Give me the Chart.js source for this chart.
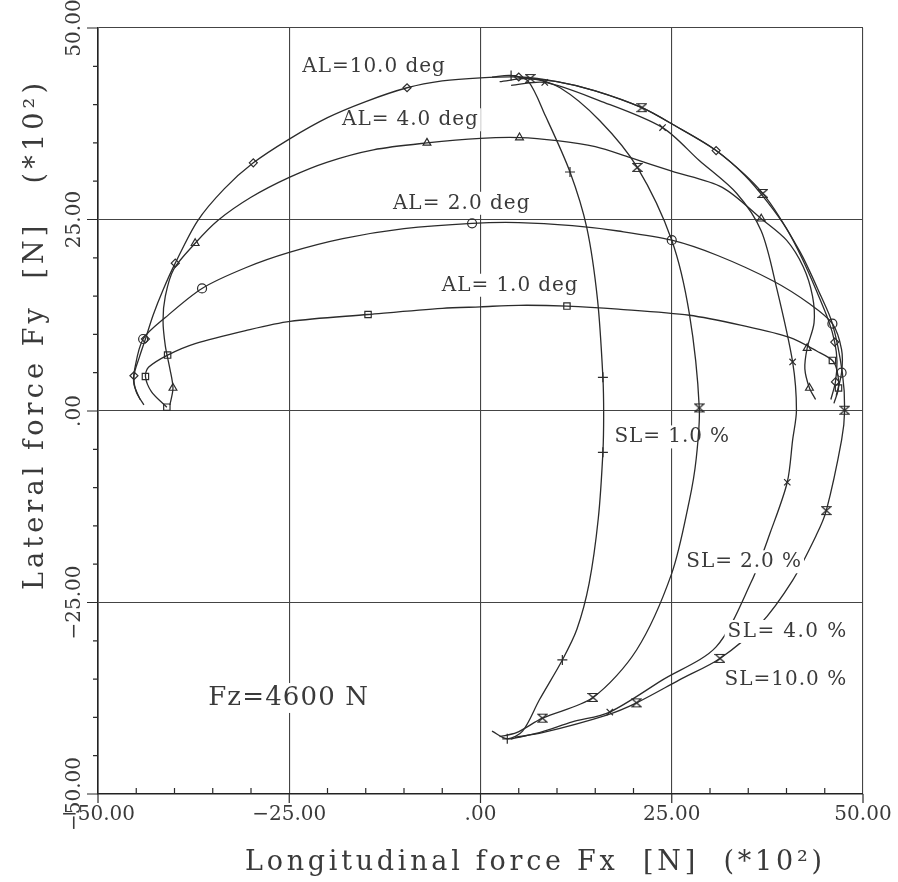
<!DOCTYPE html>
<html><head><meta charset="utf-8">
<script src="https://cdn.jsdelivr.net/npm/chart.js@4.4.1/dist/chart.umd.min.js"></script>
<style>html,body{margin:0;padding:0;background:#fff;overflow:hidden}</style>
</head><body>
<canvas id="c" width="898" height="882"></canvas>
<script>
// ---- axis ticks ----
const X_TICK_VALUES = [-50, -25, 0, 25, 50];
const X_TICK_LABELS = ['−50.00', '−25.00', '.00', '25.00', '50.00'];
const Y_TICK_VALUES = [-50, -25, 0, 25, 50];
const Y_TICK_LABELS = ['−50.00', '−25.00', '.00', '25.00', '50.00'];
const X_TITLE = 'Longitudinal force Fx  [N]  (*10²)';
const Y_TITLE = 'Lateral force Fy  [N]   (*10²)';

// ---- series: [Fx, Fy] in N*10^2 ----
const AL10 = [[-44.0,0.8],[-45.0,2.5],[-45.3,4.6],[-44.6,7.0],[-43.8,9.4],[-42.8,12.5],[-41.5,15.8],[-39.9,19.3],[-37.0,24.8],[-33.5,29.0],[-29.7,32.4],[-25.0,35.5],[-20.0,38.3],[-15.0,40.4],[-9.6,42.2],[-5.0,43.1],[0.0,43.5],[5.0,43.6],[10.0,43.0],[15.0,41.8],[21.1,39.6],[25.5,37.2],[30.8,34.0],[34.5,30.8],[37.5,27.3],[40.0,23.8],[42.0,20.0],[44.0,15.5],[45.5,11.8],[46.3,9.0],[46.6,6.5],[46.4,3.8],[45.8,1.5]];
const AL10_MARKS = [2,4,7,10,14,17,22,29,31];
const AL4 = [[-40.6,0.8],[-40.2,3.0],[-40.6,5.5],[-41.2,8.5],[-41.5,11.8],[-41.2,15.0],[-40.1,18.5],[-37.3,21.9],[-34.3,24.9],[-30.0,27.9],[-25.0,30.5],[-20.0,32.5],[-14.0,34.1],[-7.0,35.0],[0.0,35.6],[5.1,35.7],[10.0,35.3],[15.0,34.5],[19.5,33.1],[25.0,31.3],[31.6,29.2],[36.7,25.1],[40.0,22.3],[42.2,18.8],[43.4,15.0],[43.6,11.5],[42.7,8.2],[42.4,5.5],[43.0,3.0],[43.8,1.5]];
const AL4_MARKS = [1,7,13,15,21,26,28];
const AL2 = [[-44.5,1.5],[-45.3,3.5],[-45.2,5.5],[-44.1,9.4],[-41.2,12.2],[-36.4,16.0],[-30.7,18.7],[-25.0,20.7],[-18.0,22.5],[-10.0,23.8],[-1.1,24.5],[5.0,24.6],[12.0,24.2],[18.0,23.5],[25.0,22.3],[31.0,20.3],[38.2,17.0],[43.0,14.0],[46.0,11.4],[47.2,8.0],[47.2,5.0],[46.5,2.0]];
const AL2_MARKS = [3,5,10,14,18,20];
const AL1 = [[-41.0,0.5],[-43.0,2.5],[-43.8,4.5],[-43.4,5.7],[-40.9,7.3],[-37.3,8.8],[-30.7,10.5],[-24.9,11.7],[-14.7,12.6],[-5.0,13.4],[0.0,13.6],[5.0,13.8],[11.3,13.7],[18.0,13.3],[27.3,12.5],[34.0,11.2],[40.4,9.6],[44.0,7.8],[46.0,6.6],[46.6,5.3],[46.8,3.0],[46.2,1.0]];
const AL1_MARKS = [0,2,4,8,12,18,20];
const SL1 = [[1.5,43.6],[4.0,43.8],[6.2,43.1],[8.5,38.5],[11.7,31.2],[13.9,23.9],[15.3,14.5],[16.0,4.4],[16.1,-0.5],[16.0,-5.4],[15.4,-14.0],[14.2,-22.5],[12.6,-28.5],[10.7,-32.5],[7.7,-37.7],[5.5,-41.8],[3.5,-42.8],[1.5,-41.8]];
const SL1_MARKS = [1,4,7,9,13,16];
const SL2 = [[2.5,43.0],[6.5,43.4],[10.4,42.2],[15.6,37.9],[20.5,31.8],[25.0,22.3],[27.3,12.7],[28.6,0.4],[28.2,-6.2],[27.3,-11.7],[25.0,-21.2],[20.4,-31.2],[14.7,-37.4],[8.1,-40.1],[4.7,-42.0],[2.5,-42.5]];
const SL2_MARKS = [1,4,7,12,13];
const SL4 = [[4.0,42.5],[8.4,42.9],[15.6,40.5],[23.8,37.0],[28.6,32.7],[33.5,28.4],[36.7,23.5],[38.7,16.1],[40.8,6.4],[41.3,0.1],[40.8,-3.8],[40.1,-9.3],[37.9,-15.8],[35.4,-22.3],[30.8,-30.8],[23.8,-35.1],[16.9,-39.3],[12.0,-40.6],[7.7,-42.0],[4.0,-42.8]];
const SL4_MARKS = [1,3,8,11,16];
const SL10 = [[5.0,43.5],[10.0,43.0],[15.0,41.8],[21.1,39.6],[25.5,37.2],[30.8,34.0],[36.9,28.4],[41.7,20.9],[44.5,15.0],[46.0,11.4],[47.3,5.0],[47.6,0.1],[47.2,-3.8],[45.2,-13.0],[43.9,-16.2],[40.8,-22.1],[36.5,-27.9],[31.3,-32.3],[26.0,-35.1],[20.4,-38.1],[16.5,-39.7],[8.1,-42.0],[4.5,-42.6]];
const SL10_MARKS = [3,6,11,13,17,19];

// ---- text annotations: text, left Fx, right Fx, baseline Fy ----
const NOTE_TEXTS = ['AL=10.0 deg','AL= 4.0 deg','AL= 2.0 deg','AL= 1.0 deg','SL= 1.0 %','SL= 2.0 %','SL= 4.0 %','SL=10.0 %','Fz=4600 N'];
const NOTE_X0 = [-23.3,-18.1,-11.45,-5.05,17.5,26.9,32.3,31.9,-35.6];
const NOTE_X1 = [-4.65,-0.35,6.4,12.7,32.5,41.9,47.8,47.8,-14.7];
const NOTE_BASE = [44.2,37.3,26.4,15.7,-4.1,-20.4,-29.5,-35.8,-38.4];

// ---- styling (not data) ----
const INK = '#2b2b2b';
const TXT = '#3a3a3a';
const FONT = '"DejaVu Serif", "Liberation Serif", serif';
const NOTE_SIZE = [20,20,20,20,20,20,20,20,26];
const NOTE_ERASE = [false,false,false,false,false,true,true,true,false];

function hourglass(){
  const c = document.createElement('canvas'); c.width = 11; c.height = 11;
  const g = c.getContext('2d'); g.strokeStyle = INK; g.lineWidth = 1.2;
  g.beginPath(); g.moveTo(1,1.5); g.lineTo(10,1.5); g.lineTo(1,9.5); g.lineTo(10,9.5); g.closePath(); g.stroke();
  return c;
}
const HG = hourglass();

const SERIES = [
  [AL10, AL10_MARKS, 'rectRot', 4],
  [AL4, AL4_MARKS, 'triangle', 4.5],
  [AL2, AL2_MARKS, 'circle', 4.5],
  [AL1, AL1_MARKS, 'rect', 4.5],
  [SL1, SL1_MARKS, 'cross', 5],
  [SL2, SL2_MARKS, HG, 4],
  [SL4, SL4_MARKS, 'crossRot', 4.5],
  [SL10, SL10_MARKS, HG, 4]
];

function fitText(ctx, text, x, yb, width, size){
  ctx.font = size + 'px ' + FONT;
  ctx.textAlign = 'left'; ctx.textBaseline = 'alphabetic';
  if ('letterSpacing' in ctx) ctx.letterSpacing = '0px';
  const w = ctx.measureText(text).width;
  const n = [...text].length;
  if ('letterSpacing' in ctx){
    ctx.letterSpacing = ((width - w) / Math.max(1, n - 1)) + 'px';
    ctx.fillText(text, x, yb);
    ctx.letterSpacing = '0px';
  } else {
    ctx.save(); ctx.translate(x, yb); ctx.scale(width / w, 1); ctx.fillText(text, 0, 0); ctx.restore();
  }
}

function noteBox(ctx, xs, ys, i){
  const x0 = xs.getPixelForValue(NOTE_X0[i]), x1 = xs.getPixelForValue(NOTE_X1[i]);
  const yb = ys.getPixelForValue(NOTE_BASE[i]); const s = NOTE_SIZE[i];
  ctx.fillRect(x0 - 3, yb - s * 0.85, x1 - x0 + 6, s * 1.15);
}

const decor = {
  id: 'decor',
  beforeDatasetsDraw(chart){
    const {ctx, scales:{x, y}} = chart;
    ctx.save(); ctx.fillStyle = '#fff';
    NOTE_TEXTS.forEach((t, i) => noteBox(ctx, x, y, i));
    ctx.restore();
  },
  afterDatasetsDraw(chart){
    const {ctx, scales:{x, y}} = chart;
    ctx.save(); ctx.fillStyle = '#fff';
    NOTE_TEXTS.forEach((t, i) => { if (NOTE_ERASE[i]) noteBox(ctx, x, y, i); });
    ctx.fillStyle = TXT;
    NOTE_TEXTS.forEach((t, i) => {
      const x0 = x.getPixelForValue(NOTE_X0[i]), x1 = x.getPixelForValue(NOTE_X1[i]);
      fitText(ctx, t, x0, y.getPixelForValue(NOTE_BASE[i]), x1 - x0, NOTE_SIZE[i]);
    });
    ctx.restore();
  },
  afterDraw(chart){
    const {ctx, scales:{x, y}, chartArea:a} = chart;
    ctx.save();
    ctx.strokeStyle = INK; ctx.lineWidth = 1.2;
    ctx.beginPath();
    for (let v = -50; v <= 50; v += 5){
      const major = v % 25 === 0;
      const px = x.getPixelForValue(v);
      if (major){ ctx.moveTo(px, a.bottom); ctx.lineTo(px, a.bottom + 9); }
      else { ctx.moveTo(px, a.bottom); ctx.lineTo(px, a.bottom - 6); }
      const py = y.getPixelForValue(v);
      ctx.moveTo(a.left, py); ctx.lineTo(a.left - (major ? 11 : 5), py);
    }
    ctx.stroke();
    ctx.fillStyle = TXT;
    ctx.font = '20px ' + FONT; ctx.textBaseline = 'alphabetic'; ctx.textAlign = 'center';
    X_TICK_VALUES.forEach((v, i) => ctx.fillText(X_TICK_LABELS[i], x.getPixelForValue(v), a.bottom + 26));
    Y_TICK_VALUES.forEach((v, i) => {
      ctx.save(); ctx.translate(a.left - 18, y.getPixelForValue(v)); ctx.rotate(-Math.PI / 2);
      ctx.fillText(Y_TICK_LABELS[i], 0, 0); ctx.restore();
    });
    // axis titles
    fitText(ctx, X_TITLE, 245, 870, 577, 27);
    ctx.save(); ctx.translate(43, 336.5); ctx.rotate(-Math.PI / 2);
    fitText(ctx, Y_TITLE, -253.5, 0, 507, 27);
    ctx.restore();
    ctx.restore();
  }
};

new Chart(document.getElementById('c'), {
  type: 'scatter',
  data: {
    datasets: SERIES.map(([pts, marks, style, r]) => ({
      data: pts.map(([fx, fy]) => ({x: fx, y: fy})),
      showLine: true,
      borderColor: INK,
      borderWidth: 1.3,
      tension: 0.3,
      pointStyle: style,
      pointRadius: c => marks.includes(c.dataIndex) ? r : 0,
      pointBorderColor: INK,
      pointBorderWidth: 1.2,
      pointBackgroundColor: 'rgba(0,0,0,0)'
    }))
  },
  options: {
    responsive: false, animation: false, devicePixelRatio: 1,
    layout: {padding: {left: 98, right: 35, top: 28, bottom: 88}},
    plugins: {legend: {display: false}, tooltip: {enabled: false}},
    scales: {
      x: {type: 'linear', min: -50, max: 50,
          ticks: {display: false, stepSize: 25},
          grid: {color: '#444', lineWidth: 1.1, drawTicks: false},
          border: {color: '#222', width: 1.6}},
      y: {type: 'linear', min: -50, max: 50,
          ticks: {display: false, stepSize: 25},
          grid: {color: '#444', lineWidth: 1.1, drawTicks: false},
          border: {color: '#222', width: 1.6}}
    }
  },
  plugins: [decor]
});
</script>
</body></html>
